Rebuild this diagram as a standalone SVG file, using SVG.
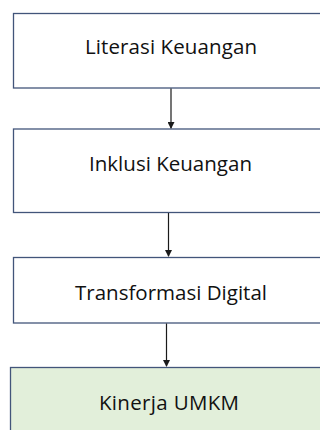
<svg xmlns="http://www.w3.org/2000/svg" width="320" height="430" viewBox="0 0 320 430">
<style>
.box{fill:#ffffff;stroke:#42557a;stroke-width:1.3}
.green{fill:#e2efda}
.lbl{font-family:"Open Sans","Noto Sans",sans-serif;font-size:20.5px;fill:#111111;text-anchor:middle}
.conn{stroke:#1a1a1a;stroke-width:1.2;fill:none}
</style>
<defs>
<marker id="ah" markerWidth="7" markerHeight="7" refX="6" refY="3.5" orient="auto" markerUnits="userSpaceOnUse">
<path d="M0,0 L7,3.5 L0,7 Z" fill="#1a1a1a"/>
</marker>
</defs>
<g id="n1"><rect class="box" x="13.5" y="13.5" width="330" height="74.5"/><text class="lbl" x="171" y="54" textLength="172" lengthAdjust="spacing">Literasi Keuangan</text></g>
<g id="n2"><rect class="box" x="13.5" y="129" width="330" height="83.5"/><text class="lbl" x="170.5" y="170.5" textLength="163" lengthAdjust="spacing">Inklusi Keuangan</text></g>
<g id="n3"><rect class="box" x="13.5" y="257.5" width="330" height="65.5"/><text class="lbl" x="171" y="300" textLength="192" lengthAdjust="spacing">Transformasi Digital</text></g>
<g id="n4"><rect class="box green" x="10.5" y="367.5" width="330" height="80"/><text class="lbl" x="169" y="410" textLength="140" lengthAdjust="spacing">Kinerja UMKM</text></g>
<g id="connectors">
<line class="conn" x1="171" y1="88.5" x2="171" y2="128" marker-end="url(#ah)"/>
<line class="conn" x1="168.5" y1="213" x2="168.5" y2="256" marker-end="url(#ah)"/>
<line class="conn" x1="166.5" y1="323.5" x2="166.5" y2="366" marker-end="url(#ah)"/>
</g>
</svg>
